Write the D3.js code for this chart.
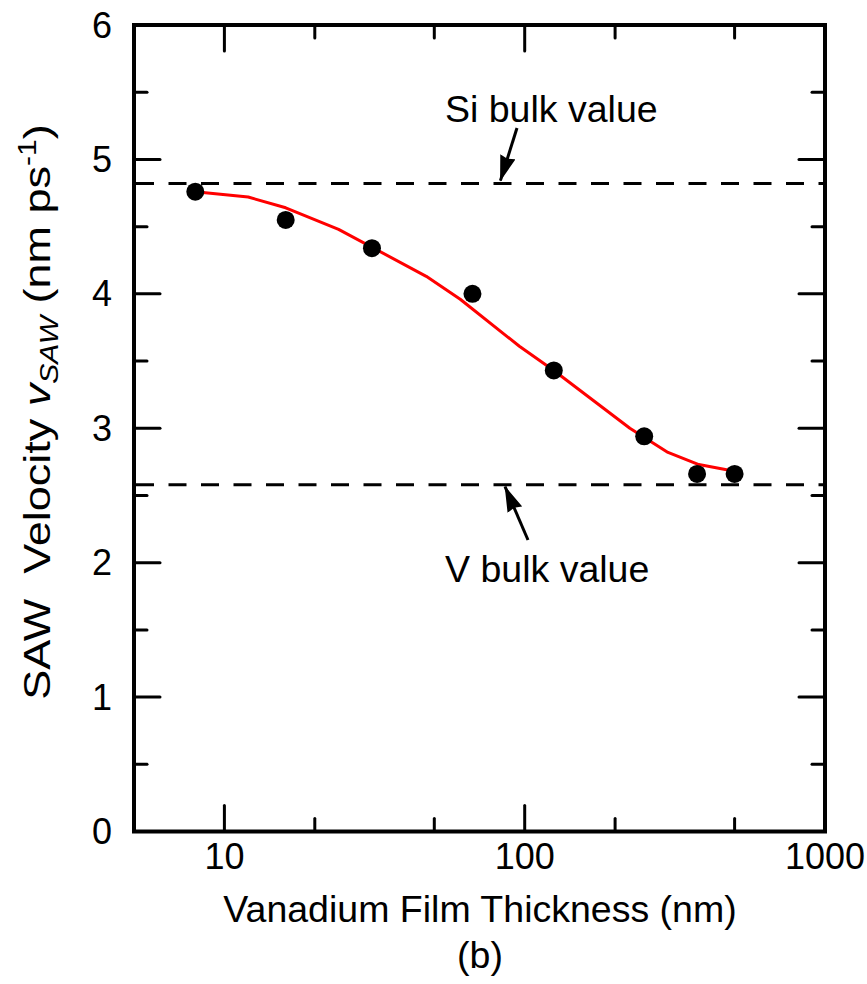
<!DOCTYPE html>
<html>
<head>
<meta charset="utf-8">
<script src="https://cdn.jsdelivr.net/npm/d3@7/dist/d3.min.js"></script>
<style>
  html, body { margin: 0; padding: 0; background: #fff; }
  svg { display: block; font-family: Arial, "Liberation Sans", sans-serif; }
</style>
</head>
<body>
<svg id="chart" width="867" height="984"></svg>
<script>
// Measured SAW velocity vs. vanadium film thickness
const thickness = [8, 16, 31, 67, 125, 250, 375, 500];
const velocity  = [4.76, 4.55, 4.34, 4.00, 3.43, 2.94, 2.66, 2.66];

// Model fit curve
const fitThickness = [8, 12, 16, 24, 47, 61, 96, 125, 224, 300, 380, 500];
const fitVelocity  = [4.76, 4.72, 4.64, 4.48, 4.13, 3.96, 3.61, 3.43, 3.00, 2.82, 2.73, 2.68];

// Bulk reference velocities
const bulkNames  = ["Si bulk value", "V bulk value"];
const bulkValues = [4.82, 2.58];

// Axis ticks
const xMajorTicks = [10, 100, 1000];
const xMinorTicks = [20, 50, 200, 500];
const yMajorTicks = [0, 1, 2, 3, 4, 5, 6];
const yMinorTicks = [0.5, 1.5, 2.5, 3.5, 4.5, 5.5];

const svg = d3.select("#chart");
const plotLeft = 134, plotRight = 825, plotTop = 25, plotBottom = 831.5;

const x = d3.scaleLog().domain([5, 1000]).range([plotLeft, plotRight]);
const y = d3.scaleLinear().domain([0, 6]).range([plotBottom, plotTop]);

const majorLen = 26, minorLen = 13;
const tickW = 3;

// Ticks on all four sides, pointing inward
function hTicks(vals, len) {
  svg.append("g").selectAll("line").data(vals).join("line")
    .attr("x1", d => x(d)).attr("x2", d => x(d))
    .attr("y1", plotBottom).attr("y2", plotBottom - len)
    .attr("stroke", "#000").attr("stroke-width", tickW).attr("stroke-linecap", "round");
  svg.append("g").selectAll("line").data(vals).join("line")
    .attr("x1", d => x(d)).attr("x2", d => x(d))
    .attr("y1", plotTop).attr("y2", plotTop + len)
    .attr("stroke", "#000").attr("stroke-width", tickW).attr("stroke-linecap", "round");
}
function vTicks(vals, len) {
  svg.append("g").selectAll("line").data(vals).join("line")
    .attr("y1", d => y(d)).attr("y2", d => y(d))
    .attr("x1", plotLeft).attr("x2", plotLeft + len)
    .attr("stroke", "#000").attr("stroke-width", tickW).attr("stroke-linecap", "round");
  svg.append("g").selectAll("line").data(vals).join("line")
    .attr("y1", d => y(d)).attr("y2", d => y(d))
    .attr("x1", plotRight).attr("x2", plotRight - len)
    .attr("stroke", "#000").attr("stroke-width", tickW).attr("stroke-linecap", "round");
}
hTicks(xMajorTicks.filter(d => d < 1000), majorLen);
hTicks(xMinorTicks, minorLen);
vTicks(yMajorTicks.filter(d => d > 0 && d < 6), majorLen);
vTicks(yMinorTicks, minorLen);

// Frame
svg.append("rect")
  .attr("x", plotLeft).attr("y", plotTop)
  .attr("width", plotRight - plotLeft).attr("height", plotBottom - plotTop)
  .attr("fill", "none").attr("stroke", "#000").attr("stroke-width", 4);

// Tick labels
svg.append("g").selectAll("text").data(xMajorTicks).join("text")
  .attr("x", d => x(d)).attr("y", 869)
  .attr("text-anchor", "middle").attr("font-size", 36)
  .text(d => d3.format("d")(d));

svg.append("g").selectAll("text").data(yMajorTicks).join("text")
  .attr("x", 112).attr("y", d => y(d) + 12.5)
  .attr("text-anchor", "end").attr("font-size", 36)
  .text(d => d);

// Bulk value dashed lines
svg.append("g").selectAll("line").data(bulkValues).join("line")
  .attr("x1", plotLeft + 2).attr("x2", plotRight - 2)
  .attr("y1", d => y(d)).attr("y2", d => y(d))
  .attr("stroke", "#000").attr("stroke-width", 3)
  .attr("stroke-dasharray", "18,14.5");

// Fit curve
const line = d3.line()
  .x((d, i) => x(fitThickness[i]))
  .y(d => y(d))
  .curve(d3.curveLinear);
svg.append("path")
  .datum(fitVelocity)
  .attr("d", line)
  .attr("fill", "none")
  .attr("stroke", "#ff0000")
  .attr("stroke-width", 3)
  .attr("stroke-linejoin", "round");

// Measured points
svg.append("g").selectAll("circle").data(thickness).join("circle")
  .attr("cx", d => x(d))
  .attr("cy", (d, i) => y(velocity[i]))
  .attr("r", 9)
  .attr("fill", "#000");

// Annotations with arrows pointing to the bulk lines
svg.append("defs").append("marker")
  .attr("id", "arrowhead")
  .attr("viewBox", "0 0 26 16")
  .attr("refX", 25).attr("refY", 8)
  .attr("markerWidth", 26).attr("markerHeight", 16)
  .attr("markerUnits", "userSpaceOnUse")
  .attr("orient", "auto")
  .append("path")
  .attr("d", "M0,0 L26,8 L0,16 L2,8 Z")
  .attr("fill", "#000");

const annotations = [
  { text: bulkNames[0], tx: 445, ty: 121.5, x1: 517, y1: 128, value: bulkValues[0], xv: 83 },
  { text: bulkNames[1], tx: 445, ty: 581.5, x1: 528, y1: 540, value: bulkValues[1], xv: 86 }
];
annotations.forEach(a => {
  svg.append("text")
    .attr("x", a.tx).attr("y", a.ty)
    .attr("font-size", 37.5)
    .text(a.text);
  svg.append("line")
    .attr("x1", a.x1).attr("y1", a.y1)
    .attr("x2", x(a.xv)).attr("y2", y(a.value) + (a.value > 3 ? -3 : 2))
    .attr("stroke", "#000").attr("stroke-width", 3)
    .attr("marker-end", "url(#arrowhead)");
});

// Axis titles
svg.append("text")
  .attr("x", 480).attr("y", 922)
  .attr("text-anchor", "middle").attr("font-size", 37.5)
  .text("Vanadium Film Thickness (nm)");

svg.append("text")
  .attr("x", 480).attr("y", 968)
  .attr("text-anchor", "middle").attr("font-size", 37.5)
  .text("(b)");

const yTitle = svg.append("text")
  .attr("transform", "translate(50,412) rotate(-90) scale(1.2,1)")
  .attr("text-anchor", "middle").attr("font-size", 37.5);
yTitle.append("tspan").text("SAW\u00a0 Velocity ");
yTitle.append("tspan").attr("font-style", "italic").text("v");
yTitle.append("tspan").attr("font-style", "italic").attr("font-size", 25).attr("dy", 8).text("SAW");
yTitle.append("tspan").attr("dy", -8).text(" (nm ps");
yTitle.append("tspan").attr("font-size", 25).attr("dy", -14).text("-1");
yTitle.append("tspan").attr("dy", 14).text(")");
</script>
</body>
</html>
